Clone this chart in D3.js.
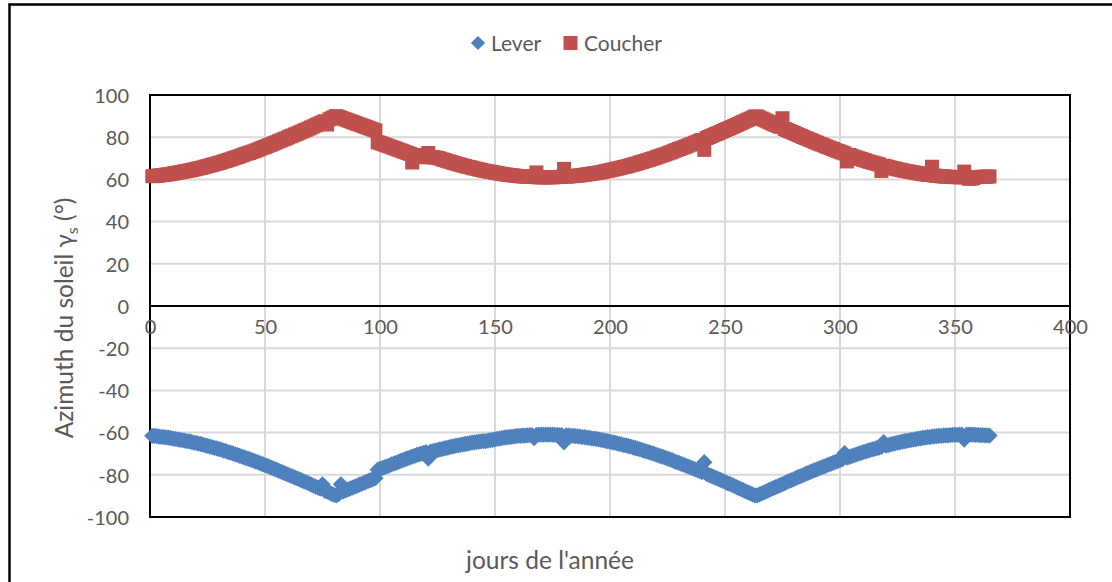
<!DOCTYPE html>
<html>
<head>
<meta charset="utf-8">
<script src="https://cdn.jsdelivr.net/npm/d3@7"></script>
<style>
  html, body { margin: 0; padding: 0; background: #ffffff; }
  svg { display: block; }
  text { font-family: Lato, "Noto Sans", sans-serif; fill: #595959; }
</style>
</head>
<body>
<svg id="chart" width="1112" height="582"></svg>
<script>
// ---- Data ----
const seriesNames = ["Lever", "Coucher"];
const xTicks = [0, 50, 100, 150, 200, 250, 300, 350, 400];
const yTicks = [-100, -80, -60, -40, -20, 0, 20, 40, 60, 80, 100];
const xTitle = "jours de l'année";

// Coucher (sunset azimuth), day 1..365
const coucher = [
  61.5, 61.6, 61.7, 61.9, 62.0, 62.1, 62.3, 62.4, 62.6, 62.8,
  63.0, 63.2, 63.4, 63.6, 63.8, 64.0, 64.2, 64.4, 64.7, 64.9,
  65.2, 65.4, 65.7, 66.0, 66.3, 66.6, 66.9, 67.2, 67.5, 67.8,
  68.1, 68.5, 68.8, 69.2, 69.5, 69.9, 70.3, 70.6, 71.0, 71.4,
  71.8, 72.2, 72.5, 72.9, 73.3, 73.7, 74.1, 74.6, 75.0, 75.4,
  75.8, 76.3, 76.7, 77.2, 77.6, 78.1, 78.5, 79.0, 79.4, 79.9,
  80.4, 80.8, 81.3, 81.7, 82.2, 82.7, 83.2, 83.6, 84.1, 84.6,
  85.1, 85.6, 86.1, 86.6, 87.1, 87.6, 86.0, 88.5, 89.0, 89.5,
  90.0, 89.6, 89.2, 88.8, 88.4, 88.0, 87.6, 87.2, 86.8, 86.4,
  86.0, 85.6, 85.2, 84.8, 84.4, 84.0, 83.6, 83.2, 77.6, 77.3,
  76.9, 76.5, 76.1, 75.7, 75.3, 74.9, 74.5, 74.1, 73.7, 73.3,
  72.9, 72.5, 72.1, 68.0, 71.6, 71.3, 71.0, 70.8, 70.6, 70.5,
  72.5, 70.6, 70.5, 70.4, 70.2, 69.9, 69.5, 69.2, 68.8, 68.5,
  68.2, 67.8, 67.5, 67.2, 66.9, 66.6, 66.3, 66.0, 65.8, 65.5,
  65.2, 65.0, 64.7, 64.5, 64.2, 64.0, 63.8, 63.6, 63.4, 63.2,
  63.0, 62.8, 62.6, 62.4, 62.3, 62.1, 62.0, 61.9, 61.7, 61.6,
  61.5, 61.4, 61.4, 61.3, 61.2, 61.2, 61.1, 63.3, 61.0, 61.0,
  61.0, 61.0, 61.0, 61.0, 61.0, 61.1, 61.1, 61.2, 61.2, 65.0,
  61.3, 61.4, 61.5, 61.6, 61.7, 61.8, 61.9, 62.1, 62.2, 62.4,
  62.5, 62.7, 62.9, 63.0, 63.2, 63.4, 63.6, 63.9, 64.1, 64.3,
  64.6, 64.8, 65.1, 65.3, 65.6, 65.9, 66.1, 66.4, 66.7, 67.0,
  67.3, 67.6, 68.0, 68.3, 68.7, 69.0, 69.3, 69.7, 70.0, 70.4,
  70.8, 71.2, 71.5, 71.9, 72.3, 72.7, 73.1, 73.6, 74.0, 74.4,
  74.8, 75.2, 75.6, 76.1, 76.5, 76.9, 77.4, 77.8, 78.3, 78.7,
  74.0, 79.6, 80.1, 80.5, 81.0, 81.5, 81.9, 82.4, 82.9, 83.4,
  83.9, 84.3, 84.8, 85.3, 85.8, 86.3, 86.8, 87.3, 87.8, 88.3,
  88.8, 89.3, 89.8, 89.8, 89.3, 88.8, 88.3, 87.8, 87.3, 86.8,
  86.3, 85.8, 85.4, 84.9, 89.0, 83.9, 83.4, 82.9, 82.5, 82.0,
  81.5, 81.0, 80.6, 80.1, 79.6, 79.2, 78.7, 78.3, 77.8, 77.4,
  76.9, 76.5, 76.1, 75.6, 75.2, 74.8, 74.4, 73.9, 73.5, 73.1,
  72.7, 72.3, 68.5, 71.6, 71.2, 70.8, 70.4, 70.0, 69.7, 69.3,
  69.0, 68.6, 68.3, 68.0, 67.7, 67.4, 67.1, 64.0, 66.5, 66.2,
  65.9, 65.6, 65.3, 65.1, 64.8, 64.6, 64.3, 64.1, 63.9, 63.7,
  63.5, 63.3, 63.1, 62.9, 62.7, 62.5, 62.4, 62.2, 62.1, 66.0,
  61.8, 61.7, 61.6, 61.5, 61.4, 61.3, 61.3, 61.2, 61.1, 61.1,
  61.1, 61.0, 61.0, 63.7, 61.0, 60.3, 60.4, 60.6, 61.1, 61.1,
  61.2, 61.2, 61.3, 61.3, 61.4
];

// Lever (sunrise azimuth), day 1..365
const lever = [
  -61.5, -61.6, -61.7, -61.9, -62.0, -62.1, -62.3, -62.4, -62.6, -62.8,
  -63.0, -63.2, -63.4, -63.6, -63.8, -64.0, -64.2, -64.4, -64.7, -64.9,
  -65.2, -65.4, -65.7, -66.0, -66.3, -66.6, -66.9, -67.2, -67.5, -67.8,
  -68.1, -68.5, -68.8, -69.2, -69.5, -69.9, -70.3, -70.6, -71.0, -71.4,
  -71.8, -72.2, -72.5, -72.9, -73.3, -73.7, -74.1, -74.6, -75.0, -75.4,
  -75.8, -76.3, -76.7, -77.2, -77.6, -78.1, -78.5, -79.0, -79.4, -79.9,
  -80.4, -80.8, -81.3, -81.7, -82.2, -82.7, -83.2, -83.6, -84.1, -84.6,
  -85.1, -85.6, -86.1, -86.6, -84.5, -87.6, -88.0, -88.5, -89.0, -89.5,
  -89.8, -89.2, -84.5, -87.8, -87.4, -87.0, -86.5, -86.1, -85.6, -85.2,
  -84.7, -84.3, -83.8, -83.4, -82.9, -82.5, -82.0, -81.6, -77.6, -77.2,
  -76.8, -76.4, -76.0, -75.6, -75.1, -74.7, -74.3, -73.9, -73.4, -73.0,
  -72.6, -72.2, -71.8, -71.4, -71.0, -70.6, -70.3, -70.0, -69.6, -69.3,
  -72.3, -69.0, -68.8, -68.6, -68.3, -68.0, -67.8, -67.5, -67.2, -67.0,
  -66.7, -66.5, -66.2, -66.0, -65.8, -65.6, -65.4, -65.2, -65.0, -64.8,
  -64.6, -64.5, -64.3, -64.2, -64.0, -64.0, -63.8, -63.6, -63.4, -63.2,
  -63.0, -62.8, -62.6, -62.4, -62.3, -62.1, -62.0, -61.9, -61.7, -61.6,
  -61.5, -61.4, -61.4, -61.3, -61.2, -61.2, -62.6, -61.1, -61.0, -61.0,
  -61.0, -61.0, -61.0, -61.0, -61.0, -61.1, -61.1, -61.2, -61.2, -64.6,
  -61.3, -61.4, -61.5, -61.6, -61.7, -61.8, -61.9, -62.1, -62.2, -62.4,
  -62.5, -62.7, -62.9, -63.0, -63.2, -63.4, -63.6, -63.9, -64.1, -64.3,
  -64.6, -64.8, -65.1, -65.3, -65.6, -65.9, -66.1, -66.4, -66.7, -67.0,
  -67.3, -67.6, -68.0, -68.3, -68.7, -69.0, -69.3, -69.7, -70.0, -70.4,
  -70.8, -71.2, -71.5, -71.9, -72.3, -72.7, -73.1, -73.6, -74.0, -74.4,
  -74.8, -75.2, -75.6, -76.1, -76.5, -76.9, -77.4, -77.8, -78.3, -78.7,
  -74.0, -79.6, -80.1, -80.5, -81.0, -81.5, -81.9, -82.4, -82.9, -83.4,
  -83.9, -84.3, -84.8, -85.3, -85.8, -86.3, -86.8, -87.3, -87.8, -88.3,
  -88.8, -89.3, -89.8, -89.8, -89.3, -88.8, -88.3, -87.8, -87.3, -86.8,
  -86.3, -85.8, -85.4, -84.9, -84.4, -83.9, -83.4, -82.9, -82.5, -82.0,
  -81.5, -81.0, -80.6, -80.1, -79.6, -79.2, -78.7, -78.3, -77.8, -77.4,
  -76.9, -76.5, -76.1, -75.6, -75.2, -74.8, -74.4, -73.9, -73.5, -73.1,
  -72.7, -69.7, -71.9, -71.6, -71.2, -70.8, -70.4, -70.0, -69.7, -69.3,
  -69.0, -68.6, -68.3, -68.0, -67.7, -67.4, -67.1, -66.8, -64.5, -66.2,
  -65.9, -65.6, -65.3, -65.1, -64.8, -64.6, -64.3, -64.1, -63.9, -63.7,
  -63.5, -63.3, -63.1, -62.9, -62.7, -62.5, -62.4, -62.2, -62.1, -61.9,
  -61.8, -61.7, -61.6, -61.5, -61.4, -61.3, -61.3, -61.2, -61.1, -61.1,
  -61.1, -61.0, -61.0, -63.3, -61.0, -61.0, -61.0, -61.0, -61.1, -61.1,
  -61.2, -61.2, -61.3, -61.3, -61.4
];

// ---- Layout ----
const W = 1112, H = 582;
const plot = { left: 150, right: 1070, top: 95, bottom: 517 };
const colors = { Lever: "#4f81bd", Coucher: "#c0504d" };
const fmt = d => String(d);

const svg = d3.select("#chart");
svg.append("rect").attr("width", W).attr("height", H).attr("fill", "#fff");

// outer chart frame (extends past the visible window on right/bottom)
svg.append("rect")
  .attr("x", 9.5).attr("y", 4.5).attr("width", 1300).attr("height", 800)
  .attr("fill", "none").attr("stroke", "#000").attr("stroke-width", 2.5);

const x = d3.scaleLinear().domain([0, 400]).range([plot.left, plot.right]);
const y = d3.scaleLinear().domain([-100, 100]).range([plot.bottom, plot.top]);

// gridlines
const grid = svg.append("g");
grid.selectAll("line.h").data(yTicks).join("line")
  .attr("x1", plot.left).attr("x2", plot.right)
  .attr("y1", d => y(d)).attr("y2", d => y(d))
  .attr("stroke", "#d9d9d9").attr("stroke-width", 2);
grid.selectAll("line.v").data(xTicks).join("line")
  .attr("y1", plot.top).attr("y2", plot.bottom)
  .attr("x1", d => x(d)).attr("x2", d => x(d))
  .attr("stroke", "#d9d9d9").attr("stroke-width", 2);

// Y axis labels (via d3 axis, domain/ticks hidden)
const yAxis = svg.append("g")
  .attr("transform", `translate(${plot.left},0)`)
  .call(d3.axisLeft(y).tickValues(yTicks).tickSize(0).tickPadding(21).tickFormat(fmt));
yAxis.select(".domain").remove();
yAxis.selectAll("text")
  .attr("font-family", "Lato, 'Noto Sans', sans-serif")
  .attr("font-size", 20).attr("fill", "#595959").attr("dy", "0.36em");

// plot border
svg.append("rect")
  .attr("x", plot.left).attr("y", plot.top)
  .attr("width", plot.right - plot.left).attr("height", plot.bottom - plot.top)
  .attr("fill", "none").attr("stroke", "#000").attr("stroke-width", 2);

// zero axis line
svg.append("line")
  .attr("x1", plot.left).attr("x2", plot.right)
  .attr("y1", y(0)).attr("y2", y(0))
  .attr("stroke", "#000").attr("stroke-width", 2);

// X axis labels sitting under the zero line
const xAxis = svg.append("g")
  .attr("transform", `translate(0,${y(0)})`)
  .call(d3.axisBottom(x).tickValues(xTicks).tickSize(0).tickPadding(24).tickFormat(fmt));
xAxis.select(".domain").remove();
xAxis.selectAll("text")
  .attr("font-family", "Lato, 'Noto Sans', sans-serif")
  .attr("font-size", 20).attr("fill", "#595959").attr("dy", "0.2em");

// markers
const squareSym = d3.symbol().type(d3.symbolSquare).size(14 * 14);
const diamondSym = d3.symbol().type(d3.symbolSquare).size(11.5 * 11.5);

svg.append("g").selectAll("path").data(lever).join("path")
  .attr("d", diamondSym)
  .attr("transform", (d, i) => `translate(${x(i + 1)},${y(d)}) rotate(45)`)
  .attr("fill", colors.Lever);

svg.append("g").selectAll("path").data(coucher).join("path")
  .attr("d", squareSym)
  .attr("transform", (d, i) => `translate(${x(i + 1)},${y(d)})`)
  .attr("fill", colors.Coucher);

// legend
const leg = svg.append("g");
leg.append("path").attr("d", d3.symbol().type(d3.symbolSquare).size(10 * 10))
  .attr("transform", "translate(478,43) rotate(45)").attr("fill", colors.Lever);
leg.append("text").attr("x", 491).attr("y", 50.5).attr("font-size", 21).text(seriesNames[0]);
leg.append("path").attr("d", d3.symbol().type(d3.symbolSquare).size(14 * 14))
  .attr("transform", "translate(570.5,43)").attr("fill", colors.Coucher);
leg.append("text").attr("x", 584).attr("y", 50.5).attr("font-size", 21).text(seriesNames[1]);

// axis titles
svg.append("text")
  .attr("x", 550).attr("y", 569)
  .attr("text-anchor", "middle").attr("font-size", 24.5)
  .text(xTitle);

const yt = svg.append("text")
  .attr("transform", "translate(73,318) rotate(-90)")
  .attr("text-anchor", "middle").attr("font-size", 24.5);
yt.append("tspan").text("Azimuth du soleil ");
yt.append("tspan").text("γ");
yt.append("tspan").attr("font-size", 16).attr("dy", 5).text("s");
yt.append("tspan").attr("dy", -5).text(" (°)");
</script>
</body>
</html>
